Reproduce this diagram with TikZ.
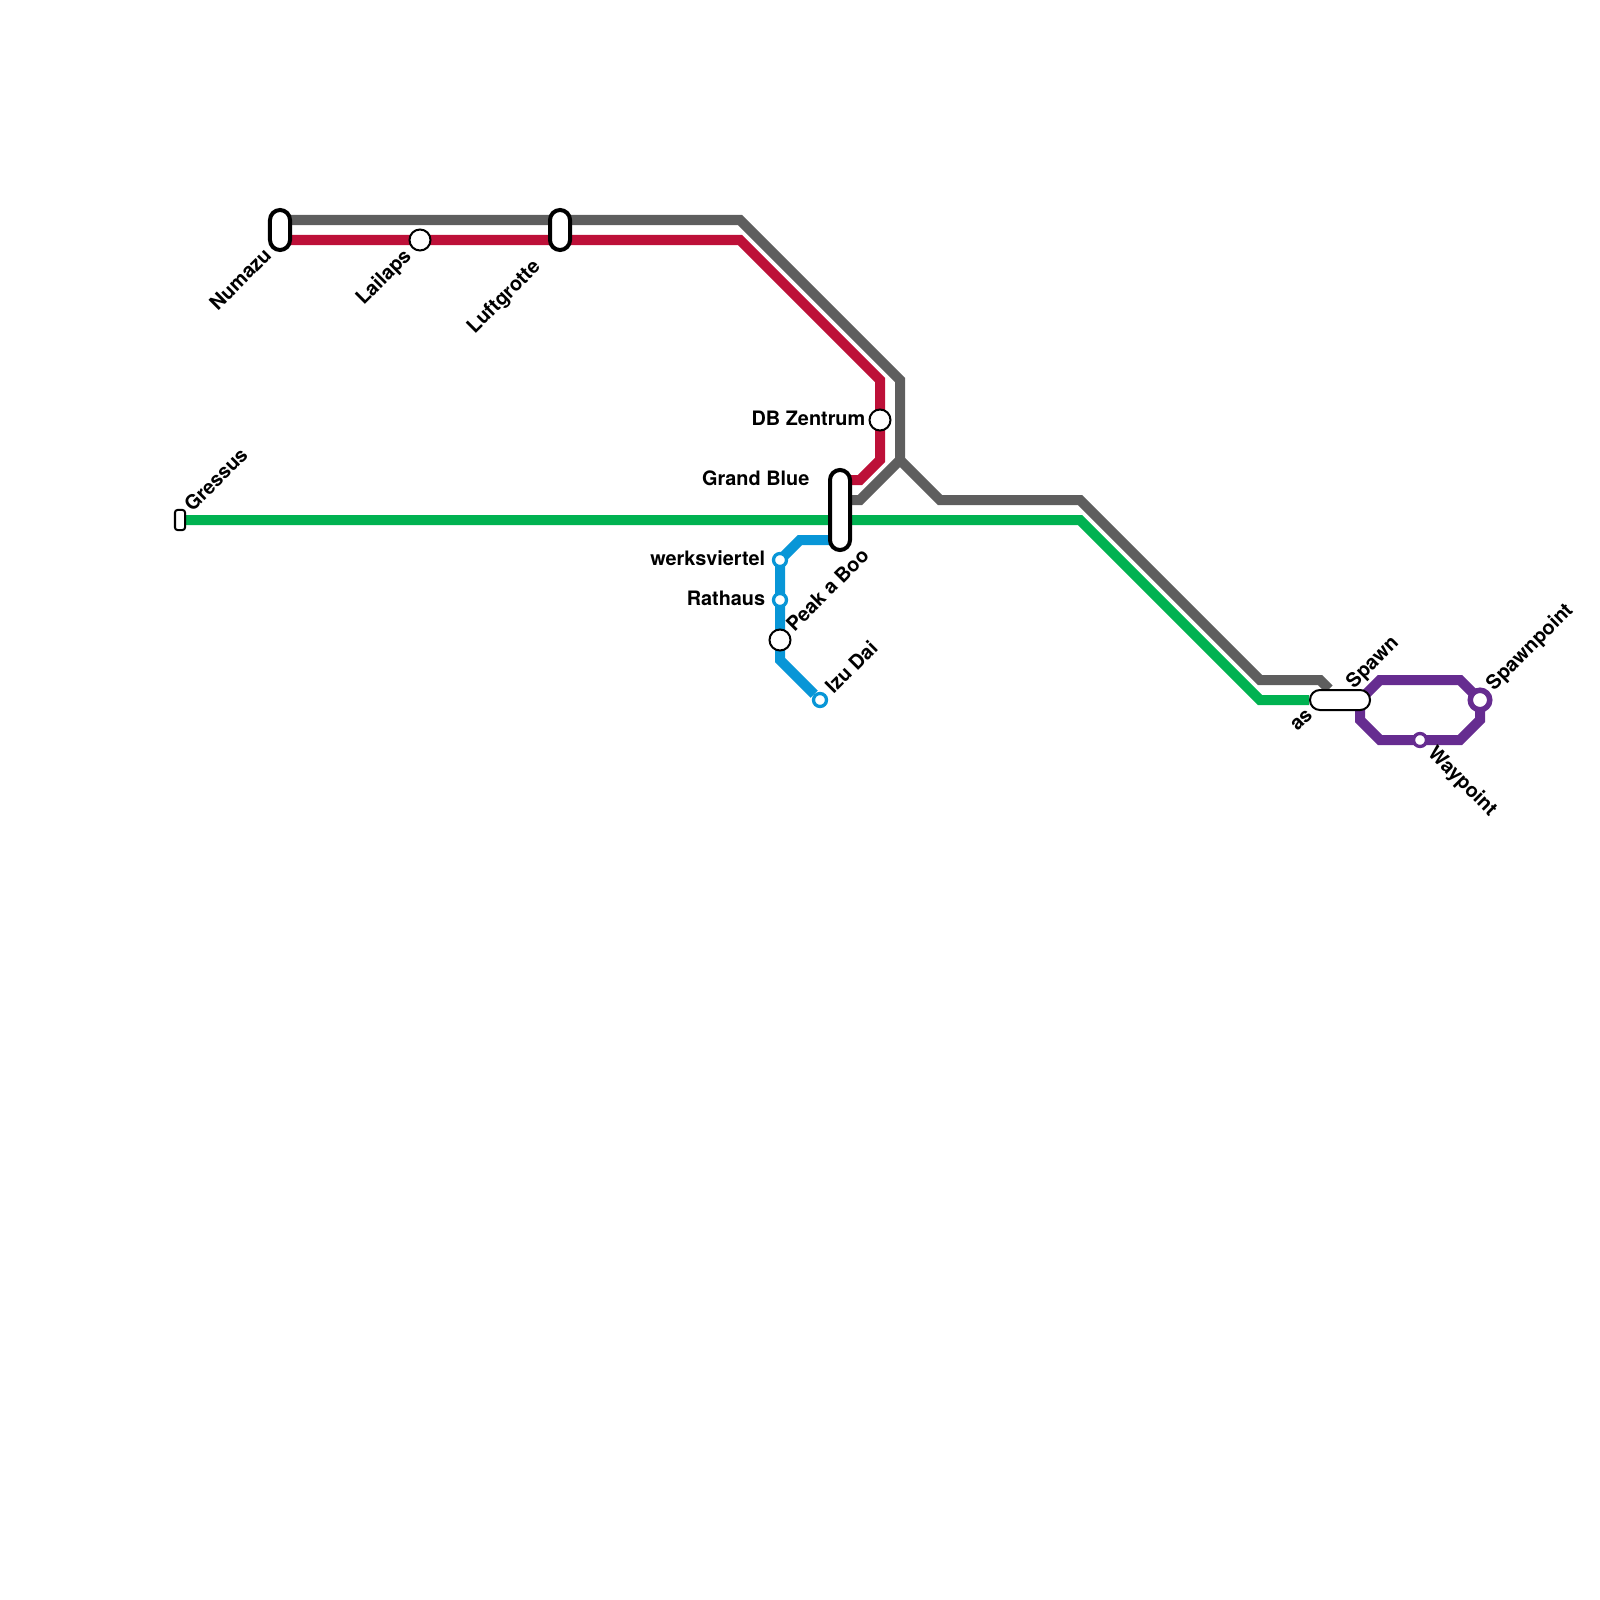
\documentclass[tikz,border=0pt]{standalone}
\usepackage{fontspec}
\setmainfont{TeX Gyre Heros}
\usepackage{xcolor}
\usetikzlibrary{positioning, backgrounds}

\definecolor{lineGray}{HTML}{5E5E5E}
\definecolor{lineRed}{HTML}{BD1038}
\definecolor{lineGreen}{HTML}{00B251}
\definecolor{lineBlue}{HTML}{0896D7}
\definecolor{linePurple}{HTML}{662C90}

\begin{document}
\begin{tikzpicture}[
			x=0.01cm, y=-0.01cm,
			node distance=0.6mm and 0.6mm,
			every node/.style={font=\fontsize{5.65}{6.5}\selectfont\bfseries},
			metroline/.style={line width=1mm, draw=#1, line join=miter},
			bigstop/.style={
				circle, draw=black, fill=white, line width=0.2mm,
				minimum size=2.1mm, inner sep=0pt
			},
			smallstop/.style={
				circle, draw=#1, fill=white, line width=0.33mm,
				minimum size=1.3mm, inner sep=0pt
			},
			ringstop/.style={
				circle, draw=#1, fill=white, line width=0.55mm,
				minimum size=1.95mm, inner sep=0pt
			},
			pill/.style 2 args={
				rectangle, rounded corners=1mm, draw=black, fill=white,
				line width=0.4mm, minimum width=#1, minimum height=#2, inner sep=0pt
			},
			thinpill/.style 2 args={
				rectangle, rounded corners=#2/2-0.01mm, draw=black, fill=white,
				line width=0.2mm, minimum width=#1, minimum height=#2, inner sep=0pt
			},
			stoplabel/.style={inner sep=0pt, text=black}
			]
			
			\useasboundingbox (0,0) rectangle (1600,1600);
			
			% Stations
			\node[thinpill={1mm}{2mm}, rounded corners=0.25mm] (gressus) at (180,520) {};
			\node[pill={2mm}{4mm}] (numazu) at (280,230) {};
			\node[bigstop] (lailaps) at (420,240) {};
			\node[pill={2mm}{4mm}] (luftgrotte) at (560,230) {};
			\node[bigstop] (dbzentrum) at (880,420) {};
			\node[pill={2mm}{8mm}] (grandblue) at (840,510) {};
			\node[smallstop=lineBlue] (werksviertel) at (780,560) {};
			\node[smallstop=lineBlue] (rathaus) at (780,600) {};
			\node[bigstop] (peakaboo) at (780,640) {};
			\node[smallstop=lineBlue] (izudai) at (820,700) {};
			\node[thinpill={6mm}{2mm}] (spawn) at (1340,700) {};
			\node[ringstop=linePurple] (spawnpoint) at (1480,700) {};
			\node[smallstop=linePurple] (waypoint) at (1420,740) {};
			
			% Labels
			\node[stoplabel, rotate=45, anchor=west] (gressuslabel) at (187,508) {Gressus};
			\node[stoplabel, rotate=45, anchor=east] (numazulabel) at (268,251) {Numazu};
			\node[stoplabel, rotate=45, anchor=east] (lailapslabel) at (409,253) {Lailaps};
			\node[stoplabel, rotate=45, anchor=east] (luftgrottelabel) at (538,264) {Luftgrotte};
			\node[stoplabel, left=0.25mm of dbzentrum, yshift=0.2mm] (dbzentrumlabel) {DB Zentrum};
			\node[stoplabel, anchor=east] (grandbluelabel) at (810,478) {Grand Blue};
			\node[stoplabel, left=of werksviertel, yshift=0.2mm] (werksviertellabel) {werksviertel};
			\node[stoplabel, left=of rathaus, yshift=0.2mm] (rathauslabel) {Rathaus};
			\node[stoplabel, rotate=45, anchor=west] (peakaboolabel) at (789,628) {Peak a Boo};
			\node[stoplabel, rotate=45, anchor=west] (izudailabel) at (828,690) {Izu Dai};
			\node[stoplabel, rotate=45, anchor=east] (aslabel) at (1310,712) {as};
			\node[stoplabel, rotate=45, anchor=west] (spawnlabel) at (1350,686) {Spawn};
			\node[stoplabel, rotate=45, anchor=west] (spawnpointlabel) at (1490,688) {Spawnpoint};
			\node[stoplabel, rotate=-45, anchor=west] (waypointlabel) at (1430,750) {Waypoint};
			
			% Bends
			\coordinate (numazuG) at (280,220);
			\coordinate (numazuR) at (280,240);
			\coordinate (luftG) at (560,220);
			\coordinate (luftR) at (560,240);
			\coordinate (gbG) at (840,500);
			\coordinate (gbR) at (840,480);
			\coordinate (gbB) at (840,540);
			\coordinate (split) at (900,460);
			
			% Lines
			\begin{scope}[on background layer]
				\draw[metroline=lineGreen] (gressus) -- (1080,520) -- (1260,700) -- (spawn);
				\draw[metroline=lineGray] (numazuG) -- (luftG) -- (740,220) -- (900,380) -- (split) -- (860,500) -- (gbG);
				\draw[metroline=lineGray] (split) -- (940,500) -- (1080,500) -- (1260,680) -- (1320,680) -- (spawn);
				\draw[metroline=lineRed] (numazuR) -- (luftR) -- (740,240) -- (880,380) -- (880,460) -- (860,480) -- (gbR);
				\draw[metroline=lineBlue] (gbB) -- (800,540) -- (780,560) -- (780,660) -- (izudai);
				\draw[metroline=linePurple] (1360,700) -- (1380,680) -- (1460,680) -- (1480,700) -- (1480,720) -- (1460,740) -- (1380,740) -- (1360,720) -- cycle;
			\end{scope}
			
		\end{tikzpicture}
\end{document}
